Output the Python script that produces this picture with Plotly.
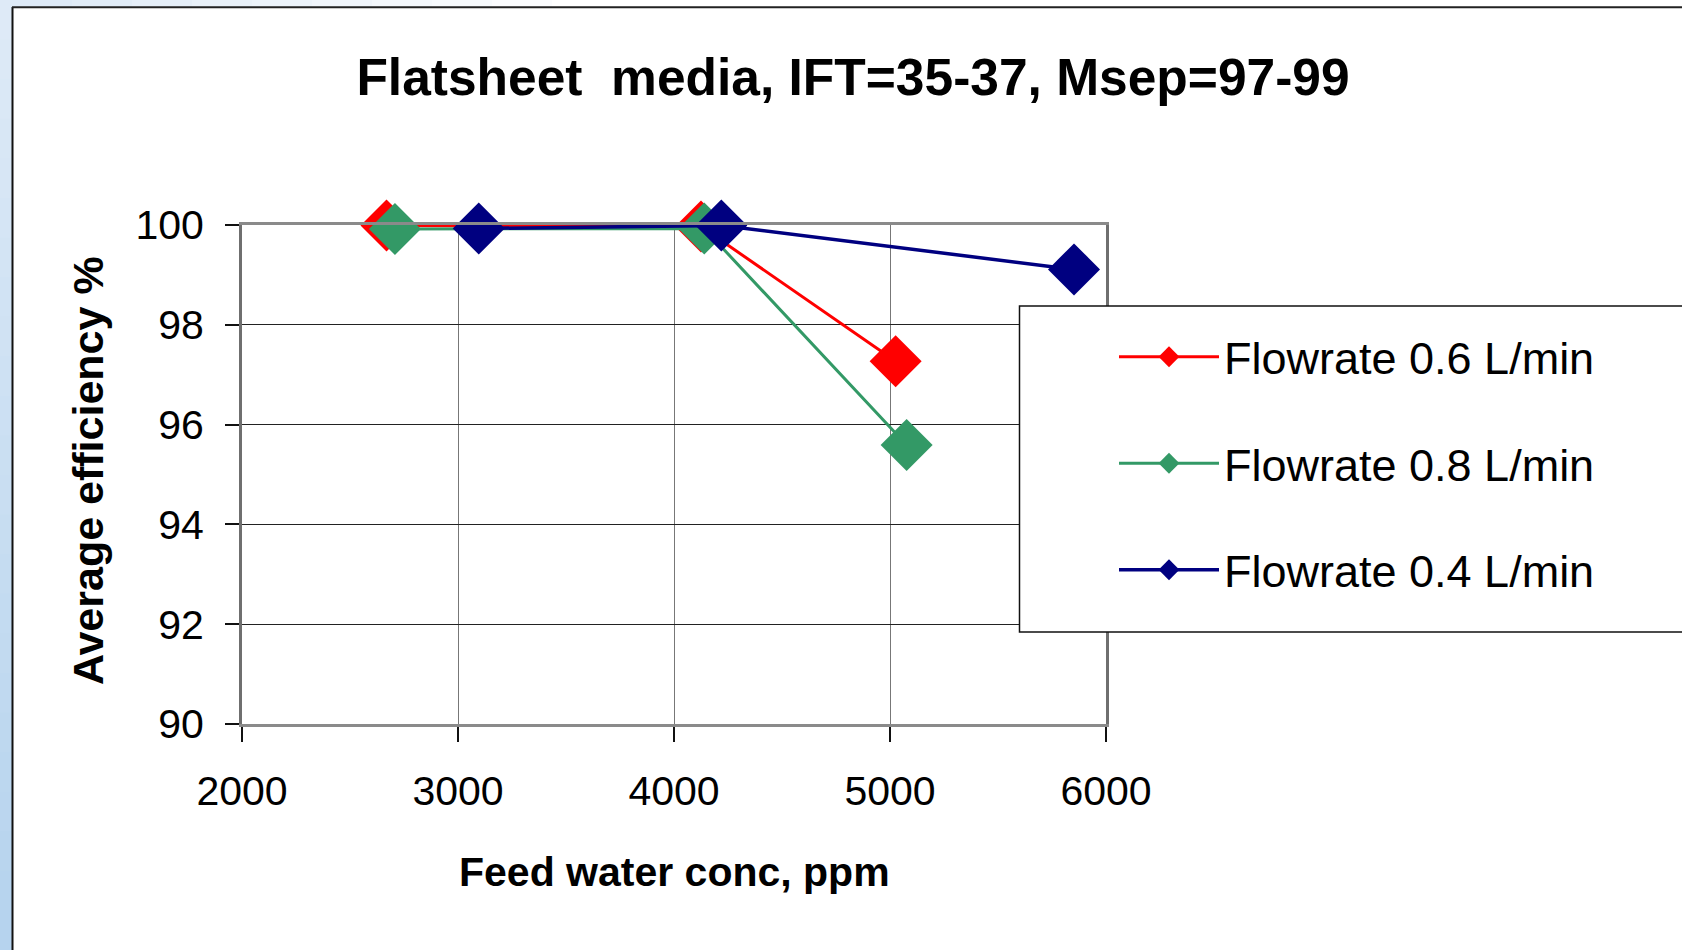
import plotly.graph_objects as go

# ---- data ----
series_names = ["Flowrate 0.6 L/min", "Flowrate 0.8 L/min", "Flowrate 0.4 L/min"]
conc_06 = [2669, 4125, 5026]
eff_06 = [99.99, 99.97, 97.27]
conc_08 = [2708, 4140, 5077]
eff_08 = [99.92, 99.93, 95.59]
conc_04 = [3096, 4219, 5852]
eff_04 = [99.93, 99.99, 99.11]
x_ticks = [2000, 3000, 4000, 5000, 6000]
y_ticks = [90, 92, 94, 96, 98, 100]

colors = ["#FF0000", "#339966", "#000080"]

W, H = 1682, 950
PL, PR, PT, PB = 242, 1106, 225, 724  # plot area in pixels


def px(xp):
    return (xp - PL) / (PR - PL)


def py(yp):
    return (PB - yp) / (PB - PT)


FONT = "Liberation Sans, Arial, sans-serif"

fig = go.Figure()
for name, xs, ys, c, lw in [
    (series_names[0], conc_06, eff_06, colors[0], 3),
    (series_names[1], conc_08, eff_08, colors[1], 3),
    (series_names[2], conc_04, eff_04, colors[2], 3.5),
]:
    fig.add_trace(go.Scatter(
        x=xs, y=ys, name=name, mode="lines+markers",
        line=dict(color=c, width=lw),
        marker=dict(symbol="diamond", size=40, color=c),
        cliponaxis=False, legendgroup=name,
    ))

shapes = []
# left light-blue strip (slide background)
n = 24
for i in range(n):
    t = i / (n - 1)
    r = int(222 + (182 - 222) * t)
    g = int(234 + (211 - 234) * t)
    b = int(247 + (238 - 247) * t)
    shapes.append(dict(type="rect", xref="paper", yref="paper",
                       x0=px(0), x1=px(12.5), y0=py(i * H / n), y1=py((i + 1) * H / n + 1),
                       fillcolor=f"rgb({r},{g},{b})", line=dict(width=0), layer="below"))
# top thin strip
m = 10
for i in range(m):
    t = i / (m - 1)
    r = int(222 + (255 - 222) * t)
    g = int(234 + (255 - 234) * t)
    b = int(247 + (255 - 247) * t)
    shapes.append(dict(type="rect", xref="paper", yref="paper",
                       x0=px(12 + i * 60), x1=px(12 + (i + 1) * 60 + 1), y0=py(0), y1=py(7),
                       fillcolor=f"rgb({r},{g},{b})", line=dict(width=0), layer="below"))
# chart frame
shapes.append(dict(type="line", xref="paper", yref="paper", x0=px(12.5), x1=px(12.5),
                   y0=py(7), y1=py(H + 2), line=dict(color="#111111", width=2)))
shapes.append(dict(type="line", xref="paper", yref="paper", x0=px(12), x1=px(W + 2),
                   y0=py(7.3), y1=py(7.3), line=dict(color="#222222", width=2)))
# legend box
shapes.append(dict(type="rect", xref="paper", yref="paper", x0=px(1019.5), x1=px(W + 20),
                   y0=py(632), y1=py(306), fillcolor="white",
                   line=dict(color="#111111", width=1.5), layer="above"))

annotations = [
    dict(text="Feed water conc, ppm", xref="paper", yref="paper", x=0.5, y=py(872),
         xanchor="center", yanchor="middle", showarrow=False,
         font=dict(family=FONT, size=41, color="black", weight="bold")),
    dict(text="Average efficiency %", xref="paper", yref="paper", x=px(88), y=py(471),
         xanchor="center", yanchor="middle", textangle=-90, showarrow=False,
         font=dict(family=FONT, size=43, color="black", weight="bold")),
]

fig.update_layout(
    width=W, height=H, autosize=False,
    margin=dict(l=PL, r=W - PR, t=PT, b=H - PB, pad=0),
    paper_bgcolor="white", plot_bgcolor="white",
    title=dict(text="Flatsheet \u00a0media, IFT=35-37, Msep=97-99",
               xref="container", yref="container", x=853 / W, y=1 - 77 / H,
               xanchor="center", yanchor="middle",
               font=dict(family=FONT, size=51.5, color="black", weight="bold")),
    xaxis=dict(range=[2000, 6000], tickvals=x_ticks, ticktext=[str(v) for v in x_ticks],
               ticks="outside", ticklen=15, tickwidth=1.5, tickcolor="#111111",
               showline=True, linecolor="#8a8a8a", linewidth=3, mirror=True,
               showgrid=True, gridcolor="#777777", gridwidth=1, zeroline=False,
               tickfont=dict(family=FONT, size=41, color="black"), ticklabelstandoff=14),
    yaxis=dict(range=[90, 100], tickvals=y_ticks, ticktext=[str(v) for v in y_ticks],
               ticks="outside", ticklen=14, tickwidth=1.5, tickcolor="#111111",
               showline=True, linecolor="#6f6f6f", linewidth=3, mirror=True,
               showgrid=True, gridcolor="#222222", gridwidth=1, zeroline=False,
               tickfont=dict(family=FONT, size=41, color="black"), ticklabelstandoff=13),
    legend=dict(x=px(1114), y=py(321), xanchor="left", yanchor="top",
                bgcolor="rgba(0,0,0,0)", borderwidth=0, traceorder="grouped",
                tracegroupgap=45, itemwidth=100,
                font=dict(family=FONT, size=45, color="black")),
    showlegend=True,
    shapes=shapes,
    annotations=annotations,
)

fig.write_html("out.html")
